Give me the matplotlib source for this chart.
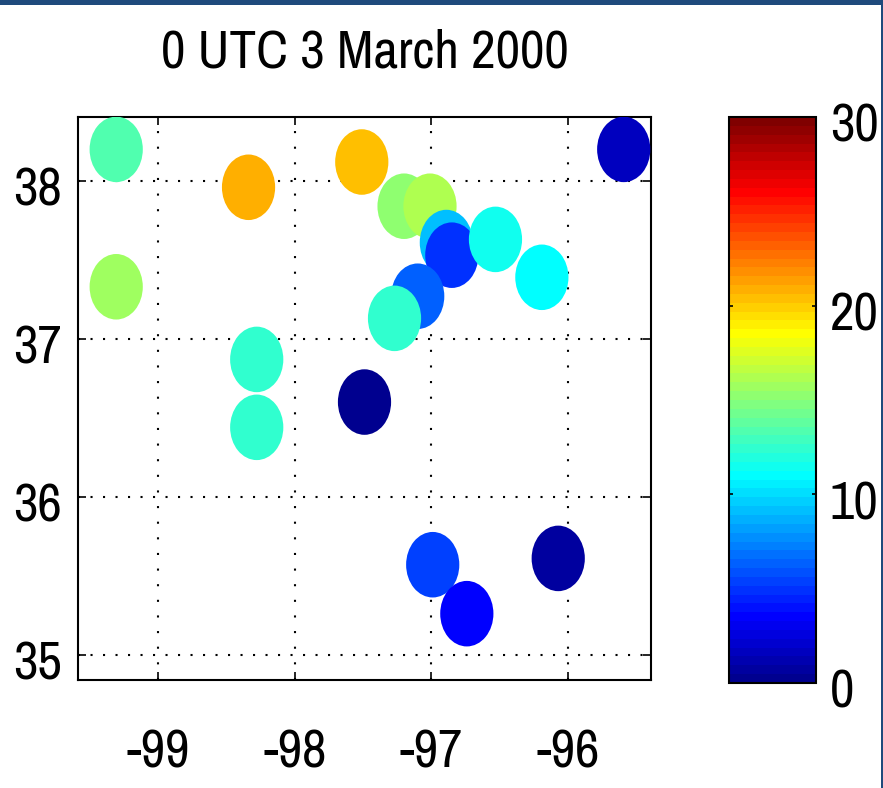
import numpy as np
import matplotlib
matplotlib.use("Agg")
import matplotlib.pyplot as plt
from matplotlib import font_manager
from matplotlib.colors import ListedColormap, Normalize
from matplotlib.cm import ScalarMappable
from matplotlib.font_manager import FontProperties
from matplotlib.patches import Ellipse, Rectangle
from matplotlib.textpath import TextPath
from matplotlib.transforms import ScaledTranslation

# station positions (deg) and observed values
lon = [-99.31, -99.31, -98.34, -97.51, -98.28, -98.28, -97.49, -97.20, -97.01,
       -96.89, -96.85, -96.53, -96.19, -97.10, -97.27, -96.99, -96.74, -96.07, -95.59]
lat = [38.20, 37.33, 37.96, 38.12, 36.87, 36.44, 36.60, 37.84, 37.84,
       37.61, 37.53, 37.63, 37.39, 37.27, 37.13, 35.57, 35.26, 35.61, 38.20]
value = [13.4, 15.7, 20.9, 20.4, 12.4, 12.4, 0.2, 15.2, 16.2,
         9.1, 4.9, 11.5, 11.0, 6.3, 12.4, 5.4, 3.5, 0.7, 1.6]

title = "0 UTC 3 March 2000"
xticks = [-99, -98, -97, -96]
yticks = [35, 36, 37, 38]
cticks = [0, 10, 20, 30]
vmin, vmax = 0, 30


def matlab_jet(m=64):
    n = int(np.ceil(m / 4))
    u = np.concatenate([np.arange(1, n + 1) / n, np.ones(n - 1), np.arange(n, 0, -1) / n])
    g = int(np.ceil(n / 2)) - int(m % 4 == 1) + np.arange(1, len(u) + 1)
    J = np.zeros((m, 3))
    for col, idx in ((0, g + n), (1, g), (2, g - n)):
        ok = (idx >= 1) & (idx <= m)
        J[idx[ok] - 1, col] = u[ok]
    return ListedColormap(J)


# narrow sans if we have one
installed = {f.name for f in font_manager.fontManager.ttflist}
family = next((f for f in ("Liberation Sans Narrow", "Arial Narrow", "Nimbus Sans Narrow",
                           "Archivo Narrow", "Roboto Condensed", "PT Sans Narrow",
                           "Liberation Sans") if f in installed), "DejaVu Sans")
plt.rcParams["font.family"] = [family, "DejaVu Sans"]
plt.rcParams["axes.unicode_minus"] = False


def size_for(px):
    # font size (pt) giving digits `px` pixels tall at 100 dpi
    h = TextPath((0, 0), "0", size=1, prop=FontProperties(family=family)).get_extents().height
    return px * 0.72 / h


tick_fs = size_for(38)
title_fs = size_for(38)

cmap = matlab_jet(64)
norm = Normalize(vmin, vmax)

fig = plt.figure(figsize=(8.83, 7.88), dpi=100)
ax = fig.add_axes([78 / 883, 1 - 680 / 788, 573 / 883, 563 / 788])

for x, y, v in zip(lon, lat, value):
    ax.add_patch(Ellipse((x, y), 0.39, 0.415, facecolor=cmap(norm(v)),
                         edgecolor="none", zorder=3))

ax.set_xlim(-99.59, -95.39)
ax.set_ylim(34.84, 38.405)
ax.set_xticks(xticks)
ax.set_yticks(yticks)
ax.set_axisbelow(True)
ax.xaxis.grid(True, color="k", linewidth=1.5, linestyle=(0, (1, 6.5)))
ax.yaxis.grid(True, color="k", linewidth=1.5, linestyle=(0, (1, 5.0)))
ax.tick_params(direction="in", length=6, width=1.2, top=True, right=True,
               labelsize=tick_fs)
ax.tick_params(axis="x", pad=63)
ax.tick_params(axis="y", pad=11.5)
for s in ax.spines.values():
    s.set_linewidth(1.5)

shift = ScaledTranslation(0, -25 / 100, fig.dpi_scale_trans)
for lab in ax.get_xticklabels():
    lab.set_va("baseline")
for lab in ax.get_yticklabels():
    lab.set_va("baseline")
    lab.set_transform(lab.get_transform() + shift)
ax.set_title(title, fontsize=title_fs, pad=36)

cax = fig.add_axes([729 / 883, 1 - 683 / 788, 87 / 883, 566 / 788])
cb = fig.colorbar(ScalarMappable(norm=norm, cmap=cmap), cax=cax, ticks=cticks)
cb.outline.set_linewidth(1.5)
cax.tick_params(direction="in", length=3, width=1.2, left=True, right=True,
                labelsize=tick_fs, pad=10)
for lab in cax.get_yticklabels():
    lab.set_va("baseline")
    lab.set_transform(lab.get_transform() + shift)

# frame edges
fig.add_artist(Rectangle((0, 1 - 5 / 788), 1, 5 / 788, transform=fig.transFigure,
                         facecolor="#1f4a7c", edgecolor="none"))
fig.add_artist(Rectangle((881 / 883, 0), 2 / 883, 1, transform=fig.transFigure,
                         facecolor="#1f4a7c", edgecolor="none"))

fig.savefig("out.png", dpi=100)
